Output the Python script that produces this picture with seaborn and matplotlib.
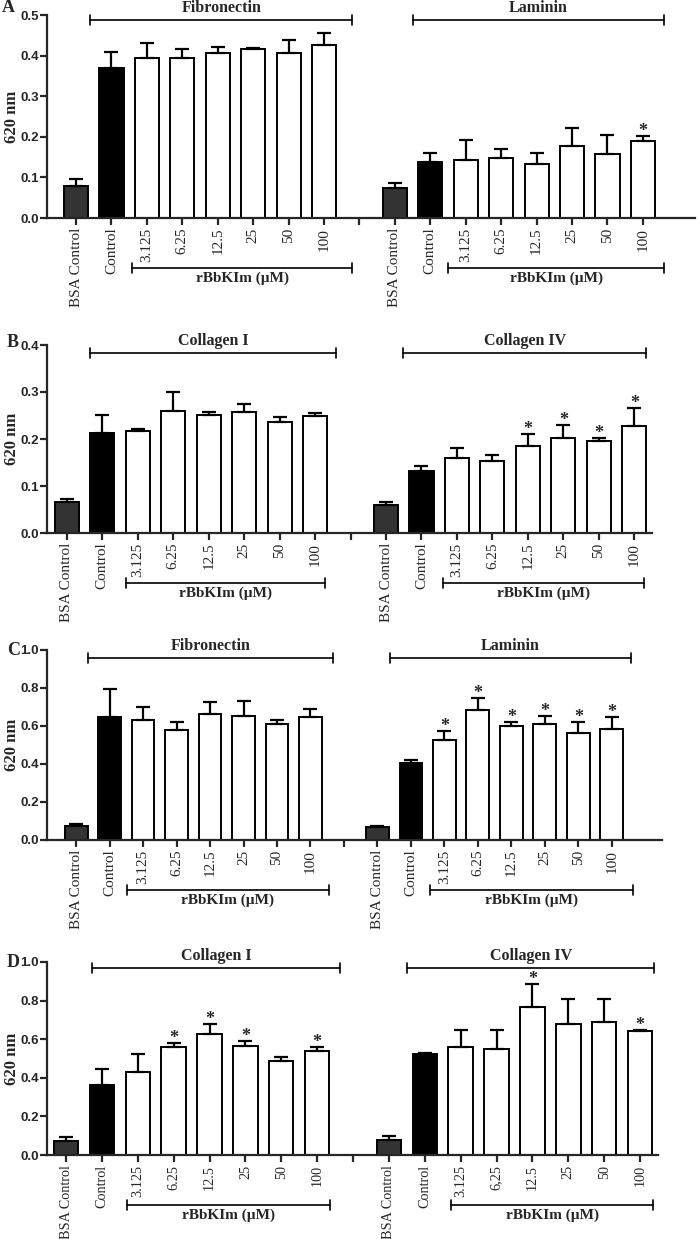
import numpy as np
import pandas as pd
import matplotlib
matplotlib.use("Agg")
import matplotlib.pyplot as plt
import seaborn as sns

sns.set_style("ticks")
plt.rcParams["font.family"] = ["Liberation Serif", "DejaVu Serif"]

# ---------------- data ----------------
conditions = ["BSA Control", "Control", "3.125", "6.25", "12.5", "25", "50", "100"]
conditions_d_right = ["BSA Control", "Control", "3.125", "6,25", "12.5", "25", "50", "100"]
dose_label = "rBbKIm (\u00b5M)"
y_label = "620 nm"
panel_letters = ["A", "B", "C", "D"]
panel_groups = [["Fibronectin", "Laminin"], ["Collagen I", "Collagen IV"],
                ["Fibronectin", "Laminin"], ["Collagen I", "Collagen IV"]]

a_left_mean = [0.080, 0.369, 0.395, 0.393, 0.406, 0.417, 0.406, 0.425]
a_left_err = [0.017, 0.041, 0.035, 0.024, 0.016, 0.002, 0.033, 0.030]
a_left_sig = []
a_right_mean = [0.073, 0.138, 0.143, 0.147, 0.134, 0.178, 0.158, 0.189]
a_right_err = [0.014, 0.022, 0.048, 0.024, 0.026, 0.043, 0.047, 0.013]
a_right_sig = ["100"]

b_left_mean = [0.067, 0.212, 0.218, 0.260, 0.251, 0.258, 0.236, 0.250]
b_left_err = [0.006, 0.039, 0.004, 0.041, 0.007, 0.017, 0.010, 0.006]
b_left_sig = []
b_right_mean = [0.059, 0.131, 0.159, 0.153, 0.186, 0.203, 0.196, 0.228]
b_right_err = [0.006, 0.012, 0.021, 0.013, 0.024, 0.027, 0.007, 0.038]
b_right_sig = ["12.5", "25", "50", "100"]

c_left_mean = [0.074, 0.649, 0.632, 0.579, 0.661, 0.653, 0.611, 0.649]
c_left_err = [0.010, 0.146, 0.066, 0.042, 0.065, 0.079, 0.021, 0.039]
c_left_sig = []
c_right_mean = [0.067, 0.407, 0.526, 0.686, 0.602, 0.611, 0.561, 0.582]
c_right_err = [0.007, 0.014, 0.049, 0.060, 0.019, 0.042, 0.060, 0.064]
c_right_sig = ["3.125", "6.25", "12.5", "25", "50", "100"]

d_left_mean = [0.075, 0.362, 0.431, 0.560, 0.626, 0.566, 0.486, 0.541]
d_left_err = [0.017, 0.086, 0.090, 0.018, 0.053, 0.024, 0.021, 0.016]
d_left_sig = ["6.25", "12.5", "25", "100"]
d_right_mean = [0.078, 0.521, 0.557, 0.547, 0.766, 0.679, 0.690, 0.641]
d_right_err = [0.020, 0.005, 0.093, 0.103, 0.122, 0.131, 0.120, 0.009]
d_right_sig = ["12.5", "100"]

y_ticks_a = [0.0, 0.1, 0.2, 0.3, 0.4, 0.5]
y_ticks_b = [0.0, 0.1, 0.2, 0.3, 0.4]
y_ticks_c = [0.0, 0.2, 0.4, 0.6, 0.8, 1.0]
y_ticks_d = [0.0, 0.2, 0.4, 0.6, 0.8, 1.0]

# ---------------- layout ----------------
W, H = 700, 1239
panels = [
    dict(left=(a_left_mean, a_left_err, a_left_sig, conditions),
         right=(a_right_mean, a_right_err, a_right_sig, conditions),
         yticks=y_ticks_a, box=(47, 695, 15, 218), xlim=(-0.82, 17.47),
         top_br=[(0.4, 7.8), (9.5, 16.6)], bot_br=[(1.58, 7.8), (10.5, 16.6)],
         top_off=5, letter_xy=(2, 12), xfs=11),
    dict(left=(b_left_mean, b_left_err, b_left_sig, conditions),
         right=(b_right_mean, b_right_err, b_right_sig, conditions),
         yticks=y_ticks_b, box=(47, 652, 345, 533), xlim=(-0.56, 16.5),
         top_br=[(0.65, 7.6), (9.49, 16.33)], bot_br=[(1.67, 7.29), (10.62, 16.27)],
         top_off=8, letter_xy=(7, 347), xfs=11),
    dict(left=(c_left_mean, c_left_err, c_left_sig, conditions),
         right=(c_right_mean, c_right_err, c_right_sig, conditions),
         yticks=y_ticks_c, box=(47, 662, 650, 840), xlim=(-0.87, 17.5),
         top_br=[(0.36, 7.66), (9.37, 16.56)], bot_br=[(1.53, 7.54), (10.57, 16.62)],
         top_off=8, letter_xy=(7, 655), xfs=11),
    dict(left=(d_left_mean, d_left_err, d_left_sig, conditions),
         right=(d_right_mean, d_right_err, d_right_sig, conditions_d_right),
         yticks=y_ticks_d, box=(47, 658, 962, 1155), xlim=(-0.53, 16.5),
         top_br=[(0.73, 7.65), (9.5, 16.4)], bot_br=[(1.7, 7.35), (10.73, 16.37)],
         top_off=6, letter_xy=(7, 967), xfs=10.3),
]

bar_colors = ["#333333", "#000000"] + ["#ffffff"] * 6
LW = 1.4

fig = plt.figure(figsize=(W / 100, H / 100), dpi=100)

for pi, p in enumerate(panels):
    L, R, T, B = p["box"]
    ax = fig.add_axes([L / W, 1 - B / H, (R - L) / W, (B - T) / H])
    axh = B - T

    lm, le, ls, llab = p["left"]
    rm, re_, rs, rlab = p["right"]
    lkeys = ["L_" + c for c in conditions]
    rkeys = ["R_" + c for c in conditions]
    order = lkeys + ["gap"] + rkeys
    tick_labels = llab + [""] + rlab

    df = pd.DataFrame({"key": lkeys + rkeys, "val": list(lm) + list(rm)})
    palette = {k: c for k, c in zip(lkeys, bar_colors)}
    palette.update({k: c for k, c in zip(rkeys, bar_colors)})
    palette["gap"] = "#ffffff"

    sns.barplot(data=df, x="key", y="val", hue="key", order=order, hue_order=order,
                palette=palette, saturation=1, width=0.68, edgecolor="black",
                linewidth=LW, errorbar=None, legend=False, ax=ax)

    pos = [order.index(k) for k in df["key"]]
    means = np.array(list(lm) + list(rm))
    errs = np.array(list(le) + list(re_))
    ax.errorbar(pos, means, yerr=[np.zeros_like(errs), errs], fmt="none",
                ecolor="black", elinewidth=1.6, capsize=4.7, capthick=1.6, zorder=4)

    # significance stars
    for side, sig in (("L_", ls), ("R_", rs)):
        for c in sig:
            k = side + c
            i = list(df["key"]).index(k)
            ax.annotate("*", (pos[i], means[i] + errs[i]), xytext=(0, 0),
                        textcoords="offset points", ha="center", va="baseline",
                        fontsize=13, fontweight="bold")

    ax.set_xlim(*p["xlim"])
    ax.set_ylim(p["yticks"][0], p["yticks"][-1])
    ax.set_xlabel("")
    ax.set_ylabel("")
    sns.despine(ax=ax)
    for s in ("left", "bottom"):
        ax.spines[s].set_linewidth(1.6)

    ax.set_xticks(range(len(order)))
    ax.set_xticklabels(tick_labels, rotation=90, fontsize=p["xfs"],
                       fontfamily="Liberation Serif")
    ax.set_yticks(p["yticks"])
    ax.set_yticklabels([f"{t:.1f}" for t in p["yticks"]], fontsize=9.5,
                       fontfamily="Liberation Sans", fontweight="bold")
    ax.tick_params(axis="x", length=5, width=1.6, pad=2)
    ax.tick_params(axis="y", length=5, width=1.6, pad=1)

    trans = ax.get_xaxis_transform()
    cap = 5 / axh
    # top brackets
    ytop = 1 - p["top_off"] / axh
    for (x0, x1), name in zip(p["top_br"], panel_groups[pi]):
        ax.plot([x0, x1], [ytop, ytop], color="black", lw=1.2, transform=trans, clip_on=False)
        for xx in (x0, x1):
            ax.plot([xx, xx], [ytop - cap, ytop + cap], color="black", lw=1.2,
                    transform=trans, clip_on=False)
        ax.text((x0 + x1) / 2, ytop + 4 / axh, name, transform=trans, ha="center",
                va="bottom", fontsize=11.5, fontweight="bold")
    # bottom brackets
    ybot = -50 / axh
    for (x0, x1) in p["bot_br"]:
        ax.plot([x0, x1], [ybot, ybot], color="black", lw=1.2, transform=trans, clip_on=False)
        for xx in (x0, x1):
            ax.plot([xx, xx], [ybot - cap, ybot + cap], color="black", lw=1.2,
                    transform=trans, clip_on=False)
        ax.text((x0 + x1) / 2, ybot - 4 / axh, dose_label, transform=trans, ha="center",
                va="top", fontsize=11, fontweight="bold")

    # y label and panel letter
    fig.text(12 / W, 1 - (T + B) / 2 / H, y_label, rotation=90, ha="center", va="center",
             fontsize=12, fontweight="bold")
    lx, ly = p["letter_xy"]
    fig.text(lx / W, 1 - ly / H, panel_letters[pi], ha="left", va="baseline",
             fontsize=13, fontweight="bold")

fig.savefig("out.png", dpi=100)
